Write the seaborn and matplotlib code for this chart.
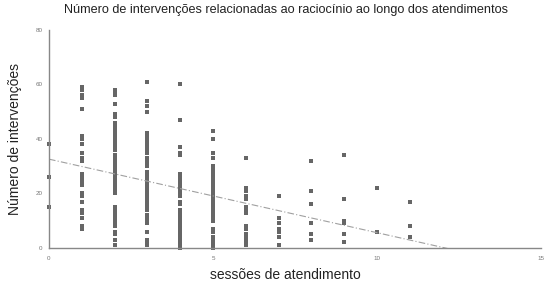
import numpy as np
import pandas as pd
import matplotlib
matplotlib.use("Agg")
import matplotlib.pyplot as plt
import seaborn as sns

# Valores: intervenções por número de sessões
sessoes = [0, 1, 2, 3, 4, 5, 6, 7, 8, 9, 10, 11]
interv_0 = [38, 26, 15]
interv_1 = [59, 58, 56, 55, 51, 41, 40, 38, 35, 33, 32, 27, 26, 25, 24, 23, 20, 19, 17, 14, 13, 11, 8, 7]
interv_2 = [58, 57, 56, 53, 49, 48, 46, 45, 44, 43, 42, 41, 40, 39, 38, 37, 36, 34, 33, 32, 31, 30,
            29, 28, 27, 26, 25, 24, 23, 22, 21, 20, 15, 14, 13, 12, 11, 10, 9, 8, 6, 5, 3, 1]
interv_3 = [61, 54, 52, 50, 42, 41, 40, 39, 38, 37, 36, 35, 33, 32, 31, 30, 28, 27, 26, 25, 24, 23,
            22, 21, 20, 19, 18, 17, 16, 15, 14, 12, 11, 10, 9, 6, 3, 2, 1]
interv_4 = [60, 47, 37, 35, 34, 27, 26, 25, 24, 23, 22, 21, 20, 19, 17, 16, 14, 13, 12, 11, 10, 9,
            8, 7, 6, 5, 4, 3, 2, 1, 0]
interv_5 = [43, 40, 35, 33, 30, 29, 28, 27, 26, 25, 24, 23, 22, 21, 20, 19, 18, 17, 16, 15, 14, 13,
            12, 11, 10, 7, 6, 4, 3, 2, 1, 0]
interv_6 = [33, 22, 21, 19, 18, 15, 14, 13, 8, 7, 5, 4, 3, 2, 1]
interv_7 = [19, 11, 9, 7, 6, 4, 1]
interv_8 = [32, 21, 16, 9, 5, 3]
interv_9 = [34, 18, 10, 9, 5, 2]
interv_10 = [22, 6]
interv_11 = [17, 8, 4]

colunas = [interv_0, interv_1, interv_2, interv_3, interv_4, interv_5,
           interv_6, interv_7, interv_8, interv_9, interv_10, interv_11]

x_ticks = [0, 5, 10, 15]
y_ticks = [0, 20, 40, 60, 80]

# Monta a tabela longa
linhas = []
for s, vals in zip(sessoes, colunas):
    for v in vals:
        linhas.append({"sessoes": s, "intervencoes": v})
df = pd.DataFrame(linhas)

sns.set_theme(style="white")
plt.rcParams['font.family'] = ['Liberation Sans', 'DejaVu Sans']

fig = plt.figure(figsize=(5.5, 2.85), dpi=100)
ax = fig.add_axes([0.089, 0.13, 0.895, 0.765])
ax.set_xlim(0, 15)
ax.set_ylim(0, 80)

sns.scatterplot(data=df, x="sessoes", y="intervencoes", marker="s", s=10,
                color="#666666", linewidth=0, clip_on=False, ax=ax)
sns.regplot(data=df, x="sessoes", y="intervencoes", scatter=False, ci=None,
            truncate=False, ax=ax,
            line_kws={"color": "#a0a0a0", "lw": 0.8, "linestyle": (0, (6, 2, 1, 2))})
ax.set_xlim(0, 15)
ax.set_ylim(0, 80)

ax.set_xticks(x_ticks)
ax.set_yticks(y_ticks)
ax.tick_params(axis="both", labelsize=4.5, labelcolor="#777777", color="#888888",
               width=0.8, length=5, direction="inout")
ax.tick_params(axis="x", pad=3)
ax.tick_params(axis="y", pad=2)

for lado in ["top", "right"]:
    ax.spines[lado].set_visible(False)
for lado in ["left", "bottom"]:
    ax.spines[lado].set_color("#888888")
    ax.spines[lado].set_linewidth(1)

ax.set_xlabel("sessões de atendimento", fontsize=10, color="#222222")
ax.xaxis.set_label_coords(0.48, -0.09)
ax.set_ylabel("Número de intervenções", fontsize=10, color="#222222")
ax.yaxis.set_label_coords(-0.055, 0.5)
fig.suptitle("Número de intervenções relacionadas ao raciocínio ao longo dos atendimentos",
             fontsize=9.1, color="#222222", x=0.52, y=0.985)

fig.savefig("out.png", dpi=100)
